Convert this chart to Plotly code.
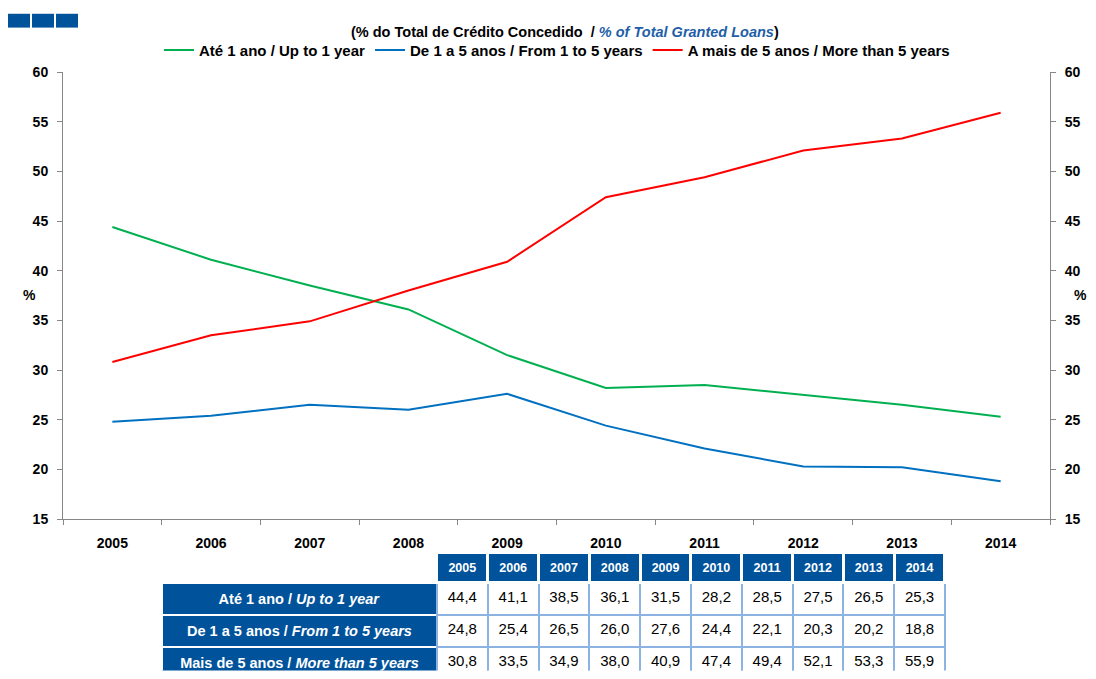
import plotly.graph_objects as go

years = ["2005", "2006", "2007", "2008", "2009", "2010", "2011", "2012", "2013", "2014"]
up_to_1 = [44.4, 41.1, 38.5, 36.1, 31.5, 28.2, 28.5, 27.5, 26.5, 25.3]
from_1_to_5 = [24.8, 25.4, 26.5, 26.0, 27.6, 24.4, 22.1, 20.3, 20.2, 18.8]
over_5 = [30.8, 33.5, 34.9, 38.0, 40.9, 47.4, 49.4, 52.1, 53.3, 55.9]

legend_names = ["<b>Até 1 ano / Up to 1 year</b>",
                "<b>De 1 a 5 anos / From 1 to 5 years</b>",
                "<b>A mais de 5 anos / More than 5 years</b>"]
row_labels = ["<b>Até 1 ano / <i>Up to 1 year</i></b>",
              "<b>De 1 a 5 anos / <i>From 1 to 5 years</i></b>",
              "<b>Mais de 5 anos / <i>More than 5 years</i></b>"]
subtitle = "<b>(% do Total de Crédito Concedido  / <i><span style='color:#1F5FA8'>% of Total Granted Loans</span></i>)</b>"

FONT = "Arial, Liberation Sans, sans-serif"
BLUE = "#00529B"
# the page body has an 8px margin, so the figure is drawn 8px smaller
OFF = 8
W, H = 1096 - OFF, 679 - OFF
L, R, T, B = 55, 46, 64, 0
pw, ph = W - L - R, H - T - B

def px_x(x):
    return (x - OFF - L) / pw

def px_y(y):
    return (H - B - (y - OFF)) / ph

fig = go.Figure()

series = [(up_to_1, "#00B050"), (from_1_to_5, "#0070C0"), (over_5, "#FF0000")]
for (vals, color), name in zip(series, legend_names):
    fig.add_trace(go.Scatter(x=years, y=vals, mode="lines", name=name,
                             line=dict(color=color, width=2)))

# invisible trace so the right-hand axis is drawn
fig.add_trace(go.Scatter(x=years, y=over_5, yaxis="y2", mode="lines",
                         line=dict(color="rgba(0,0,0,0)"), showlegend=False,
                         hoverinfo="skip"))

def fmt(v):
    return f"{v:.1f}".replace(".", ",")

columns = [row_labels] + [[fmt(a), fmt(b), fmt(c)]
                          for a, b, c in zip(up_to_1, from_1_to_5, over_5)]

fig.add_trace(go.Table(
    domain=dict(x=[px_x(162), px_x(945)], y=[0, px_y(559)]),
    columnwidth=[276] + [51] * len(years),
    header=dict(values=[""] + ["<b>%s</b>" % y for y in years],
                fill_color=["white"] + [BLUE] * len(years),
                line=dict(color="white", width=3),
                font=dict(family=FONT, size=12.5, color="white"),
                align="center", height=18),
    cells=dict(values=columns,
               fill_color=[BLUE] + ["white"] * len(years),
               line=dict(color=["white"] + ["#8DB3E2"] * len(years), width=2),
               font=dict(family=FONT, size=[14.5] + [15] * len(years),
                         color=["white"] + ["black"] * len(years)),
               align="center", height=29),
))

axis_font = dict(family=FONT, size=14, color="black")
fig.update_layout(
    width=W, height=H,
    margin=dict(l=L, r=R, t=T, b=B),
    paper_bgcolor="white", plot_bgcolor="white",
    font=dict(family=FONT, color="black"),
    xaxis=dict(domain=[0, 1], anchor="y", range=[-0.5, 9.5], type="category",
               tickson="boundaries", ticks="outside", ticklen=5, tickcolor="#868686",
               showline=True, linecolor="#868686", showgrid=False, zeroline=False,
               tickfont=axis_font, tickprefix="<b>", ticksuffix="</b>",
               ticklabelstandoff=11),
    yaxis=dict(domain=[px_y(525), 1], range=[15, 60], dtick=5, ticks="outside",
               ticklen=5, tickcolor="#868686", showline=True, linecolor="#868686",
               showgrid=False, zeroline=False, tickfont=axis_font,
               tickprefix="<b>", ticksuffix="</b>", ticklabelstandoff=6),
    yaxis2=dict(overlaying="y", side="right", anchor="x", range=[15, 60], dtick=5,
                ticks="outside", ticklen=5, tickcolor="#868686", showline=True,
                linecolor="#868686", showgrid=False, zeroline=False,
                tickfont=axis_font, tickprefix="<b>", ticksuffix="</b>",
                ticklabelstandoff=6),
    legend=dict(orientation="h", x=px_x(557), xanchor="center", y=px_y(50), yanchor="middle",
                font=dict(family=FONT, size=15, color="black"), bgcolor="rgba(0,0,0,0)",
                itemwidth=30),
    showlegend=True,
)

fig.add_annotation(text=subtitle, xref="paper", yref="paper", x=px_x(565), y=px_y(21),
                   showarrow=False, font=dict(family=FONT, size=14.5, color="black"))
fig.add_annotation(text="<b>%</b>", xref="paper", yref="paper", x=px_x(21), y=px_y(298),
                   showarrow=False, font=dict(family=FONT, size=14, color="black"))
fig.add_annotation(text="<b>%</b>", xref="paper", yref="paper", x=px_x(1089), y=px_y(298),
                   showarrow=False, font=dict(family=FONT, size=14, color="black"))

# decorative blue squares in the top-left corner
for x0 in (8, 32, 56):
    fig.add_shape(type="rect", xref="paper", yref="paper",
                  x0=px_x(x0), x1=px_x(x0 + 22), y0=px_y(27), y1=px_y(13),
                  fillcolor=BLUE, line=dict(width=0))

fig.write_html("out.html")
